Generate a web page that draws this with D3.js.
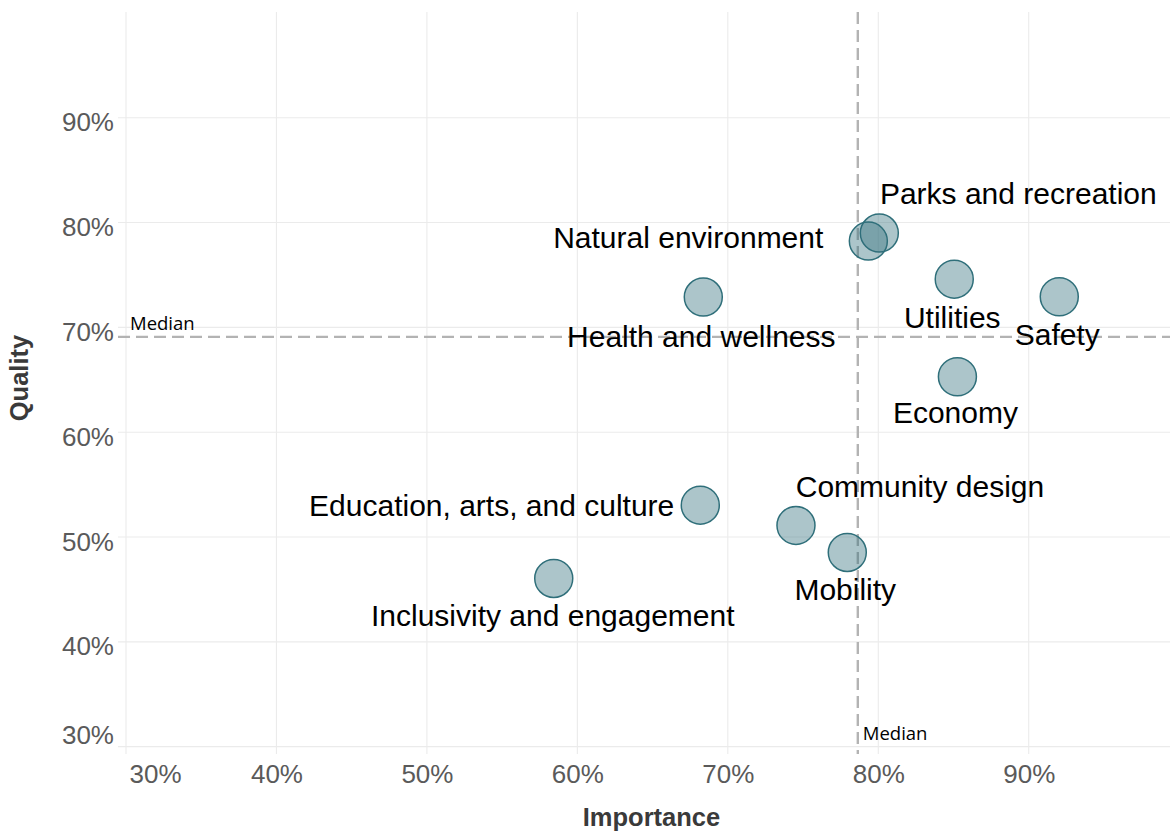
<!DOCTYPE html>
<html>
<head>
<meta charset="utf-8">
<script src="https://cdn.jsdelivr.net/npm/d3@7/dist/d3.min.js"></script>
<style>
  html, body { margin: 0; padding: 0; background: #ffffff; }
  svg { display: block; }
</style>
</head>
<body>
<svg id="chart" width="1170" height="831"></svg>
<script>
// ---- data ----
const categories = [
  "Parks and recreation", "Natural environment", "Utilities", "Safety", "Economy",
  "Health and wellness", "Education, arts, and culture", "Community design",
  "Mobility", "Inclusivity and engagement"
];
const importance = [0.8007, 0.7934, 0.8505, 0.9203, 0.8526, 0.6837, 0.6817, 0.7453, 0.7794, 0.5843];
const quality    = [0.7900, 0.7823, 0.7460, 0.7292, 0.6529, 0.7289, 0.5304, 0.5111, 0.4853, 0.4605];
const xTicks = [0.3, 0.4, 0.5, 0.6, 0.7, 0.8, 0.9];
const yTicks = [0.3, 0.4, 0.5, 0.6, 0.7, 0.8, 0.9];
const xTitle = "Importance";
const yTitle = "Quality";
const medianLabel = "Median";

// ---- layout ----
const panel = { left: 118, right: 1170, top: 12, bottom: 754 };
const FONT = "'Liberation Sans', Arial, Helvetica, sans-serif";

const x = d3.scaleLinear().domain([0.29468, 0.99390]).range([panel.left, panel.right]);
const y = d3.scaleLinear().domain([0.29300, 1.00086]).range([panel.bottom, panel.top]);

const svg = d3.select("#chart");

// gridlines
const grid = svg.append("g");
grid.selectAll("line.v").data(xTicks).join("line")
  .attr("x1", d => x(d)).attr("x2", d => x(d))
  .attr("y1", panel.top).attr("y2", panel.bottom)
  .attr("stroke", "#ebebeb").attr("stroke-width", 1.1);
grid.selectAll("line.h").data(yTicks).join("line")
  .attr("y1", d => y(d)).attr("y2", d => y(d))
  .attr("x1", panel.left).attr("x2", panel.right)
  .attr("stroke", "#ebebeb").attr("stroke-width", 1.1);

// axes
const fmt = d3.format(".0%");
const xAxis = svg.append("g")
  .attr("transform", `translate(0,${panel.bottom})`)
  .call(d3.axisBottom(x).tickValues(xTicks).tickFormat(fmt).tickSize(0).tickPadding(10.5));
const yAxis = svg.append("g")
  .attr("transform", `translate(${panel.left},0)`)
  .call(d3.axisLeft(y).tickValues(yTicks).tickFormat(fmt).tickSize(0).tickPadding(4));
[xAxis, yAxis].forEach(a => {
  a.select(".domain").remove();
  a.selectAll("text").attr("font-family", FONT).attr("font-size", 26).attr("fill", "#5a5a5a");
});
yAxis.selectAll("text").attr("dy", "0.5em");
// first tick labels nudged inward, as in the original
xAxis.selectAll(".tick").filter(d => d === xTicks[0]).select("text").attr("x", 29);
yAxis.selectAll(".tick").filter(d => d === yTicks[0]).select("text").attr("y", -16);

// axis titles
svg.append("text")
  .attr("x", 651.5).attr("y", 826)
  .attr("text-anchor", "middle")
  .attr("font-family", FONT).attr("font-weight", "bold").attr("font-size", 25.5)
  .attr("fill", "#3a3a3a").text(xTitle);
svg.append("text")
  .attr("transform", "translate(28,378) rotate(-90)")
  .attr("text-anchor", "middle")
  .attr("font-family", FONT).attr("font-weight", "bold").attr("font-size", 25.5)
  .attr("fill", "#3a3a3a").text(yTitle);

// median lines
const medX = d3.median(importance);
const medY = d3.median(quality);
svg.append("line")
  .attr("x1", x(medX)).attr("x2", x(medX))
  .attr("y1", panel.top).attr("y2", panel.bottom)
  .attr("stroke", "#b3b3b3").attr("stroke-width", 2.4).attr("stroke-dasharray", "12,6");
svg.append("line")
  .attr("x1", panel.left).attr("x2", panel.right)
  .attr("y1", y(medY)).attr("y2", y(medY))
  .attr("stroke", "#b3b3b3").attr("stroke-width", 2.4).attr("stroke-dasharray", "12,6");
svg.append("text")
  .attr("x", x(0.3) + 4).attr("y", y(medY) - 6.5)
  .attr("font-family", "'Open Sans', sans-serif").attr("font-size", 18.5)
  .attr("fill", "#000").text(medianLabel);
svg.append("text")
  .attr("x", x(medX) + 5).attr("y", 740)
  .attr("font-family", "'Open Sans', sans-serif").attr("font-size", 18.5)
  .attr("fill", "#000").text(medianLabel);

// points
const pts = categories.map((c, i) => ({ name: c, imp: importance[i], qual: quality[i] }));
svg.append("g").selectAll("circle").data(pts).join("circle")
  .attr("cx", d => x(d.imp)).attr("cy", d => y(d.qual))
  .attr("r", 19)
  .attr("fill", "#2f6f7a").attr("fill-opacity", 0.4)
  .attr("stroke", "#2f6f7a").attr("stroke-width", 1.5);

// label placement (layout only)
const place = {
  "Parks and recreation":        { dx: 139, dy: -29, anchor: "middle" },
  "Natural environment":         { dx: -45, dy: 7,   anchor: "end" },
  "Utilities":                   { dx: -2,  dy: 49,  anchor: "middle" },
  "Safety":                      { dx: -2,  dy: 48,  anchor: "middle" },
  "Economy":                     { dx: -2,  dy: 46,  anchor: "middle" },
  "Health and wellness":         { dx: -2,  dy: 50,  anchor: "middle" },
  "Education, arts, and culture":{ dx: -26, dy: 11,  anchor: "end" },
  "Community design":            { dx: 124, dy: -28, anchor: "middle" },
  "Mobility":                    { dx: -2,  dy: 48,  anchor: "middle" },
  "Inclusivity and engagement":  { dx: -1,  dy: 48,  anchor: "middle" }
};
svg.append("g").selectAll("text").data(pts).join("text")
  .attr("x", d => x(d.imp) + place[d.name].dx)
  .attr("y", d => y(d.qual) + place[d.name].dy)
  .attr("text-anchor", d => place[d.name].anchor)
  .attr("font-family", FONT).attr("font-size", 30)
  .attr("fill", "#000").text(d => d.name);
</script>
</body>
</html>
